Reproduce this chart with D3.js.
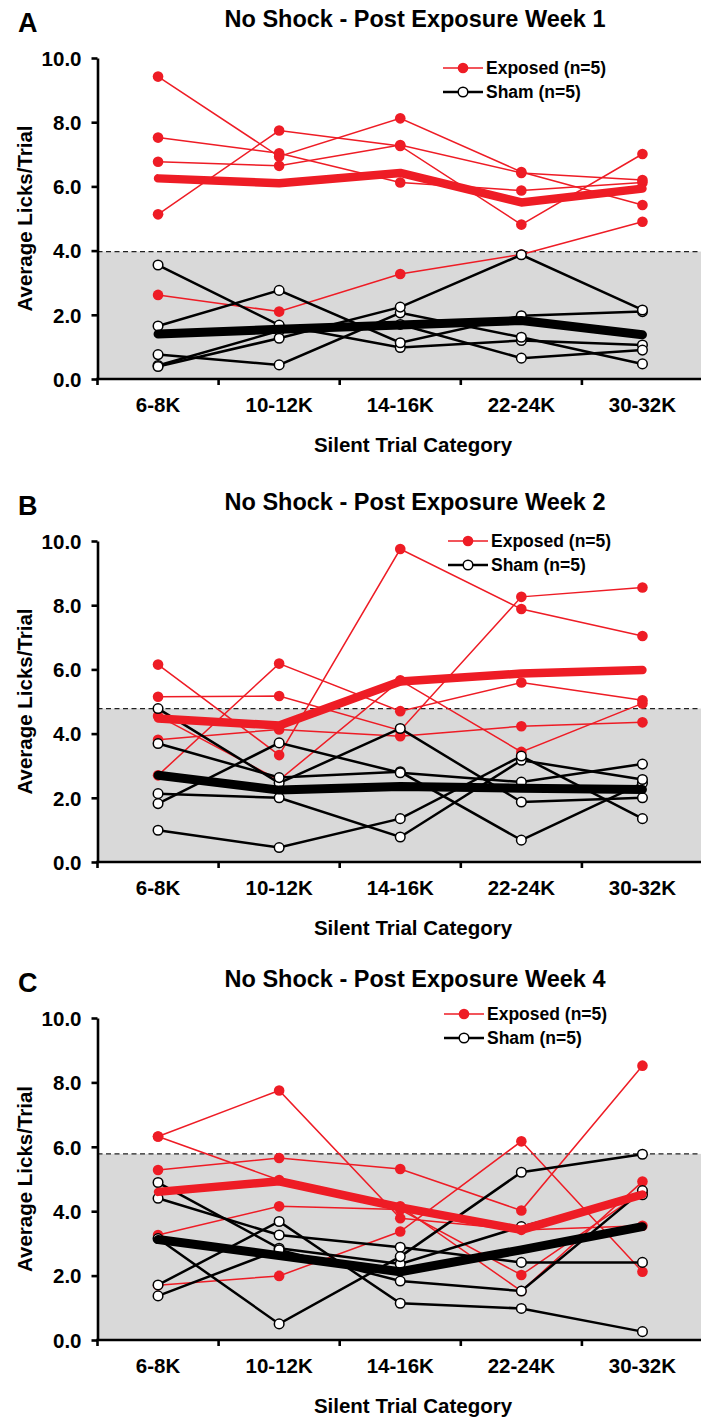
<!DOCTYPE html>
<html><head><meta charset="utf-8">
<script src="https://cdn.jsdelivr.net/npm/d3@7"></script>
<style>
html,body{margin:0;padding:0;background:#fff;}
svg{display:block;font-family:"Liberation Sans",Arial,sans-serif;font-weight:bold;}
</style>
</head><body>
<svg id="chart" width="701" height="1420"></svg>
<script>
// ---------------- data ----------------
const categories = ["6-8K", "10-12K", "14-16K", "22-24K", "30-32K"];
const yTicks = [0, 2, 4, 6, 8, 10];
const panelLetters = ["A", "B", "C"];
const panelTitles = [
  "No Shock - Post Exposure Week 1",
  "No Shock - Post Exposure Week 2",
  "No Shock - Post Exposure Week 4"
];
const thresholds = [3.97, 4.78, 5.78];
const legendLabels = ["Exposed (n=5)", "Sham (n=5)"];
const xAxisTitle = "Silent Trial Category";
const yAxisTitle = "Average Licks/Trial";

// Week 1
const exposedWeek1 = [
  [9.42, 6.93, 8.12, 6.45, 5.42],
  [7.52, 7.03, 6.12, 5.87, 6.12],
  [6.77, 6.64, 7.29, 6.42, 6.20],
  [5.13, 7.74, 7.26, 4.81, 7.01],
  [2.62, 2.10, 3.27, 3.88, 4.90]
];
const shamWeek1 = [
  [3.55, 1.68, 0.98, 1.20, 1.06],
  [1.65, 2.76, 1.13, 1.97, 2.10],
  [0.42, 1.50, 1.70, 0.65, 0.90],
  [0.76, 0.44, 2.06, 1.30, 0.47],
  [0.39, 1.27, 2.24, 3.87, 2.15]
];
const exposedMeanWeek1 = [6.25, 6.10, 6.42, 5.50, 5.93];
const shamMeanWeek1 = [1.40, 1.55, 1.68, 1.82, 1.38];

// Week 2
const exposedWeek2 = [
  [6.15, 3.33, 9.75, 7.88, 7.04],
  [5.15, 5.17, 4.10, 8.26, 8.55],
  [4.55, 2.55, 5.66, 3.43, 4.94],
  [3.81, 4.13, 3.92, 4.23, 4.35],
  [2.70, 6.18, 4.70, 5.59, 5.04]
];
const shamWeek2 = [
  [4.78, 2.46, 4.16, 1.87, 2.00],
  [3.69, 2.63, 2.81, 0.68, 2.46],
  [2.13, 2.00, 0.78, 3.17, 2.57],
  [1.82, 3.71, 2.78, 2.49, 3.05],
  [0.99, 0.45, 1.35, 3.30, 1.35]
];
const exposedMeanWeek2 = [4.47, 4.25, 5.62, 5.87, 5.98];
const shamMeanWeek2 = [2.70, 2.24, 2.35, 2.30, 2.26];

// Week 4
const exposedWeek4 = [
  [6.32, 7.75, 3.78, 3.42, 3.55],
  [6.32, 4.97, 4.15, 1.52, 4.92],
  [5.28, 5.65, 5.31, 4.02, 8.52],
  [3.26, 4.15, 4.05, 2.02, 4.60],
  [1.70, 1.99, 3.37, 6.17, 2.12]
];
const shamWeek4 = [
  [4.89, 2.85, 2.36, 3.52, 4.51],
  [4.40, 3.26, 2.88, 2.41, 2.41],
  [3.15, 0.50, 2.59, 5.21, 5.77],
  [1.71, 3.68, 1.14, 0.98, 0.26],
  [1.37, 2.80, 1.83, 1.52, 4.64]
];
const exposedMeanWeek4 = [4.60, 4.93, 4.12, 3.42, 4.52];
const shamMeanWeek4 = [3.12, 2.62, 2.12, 2.80, 3.52];

// ---------------- layout ----------------
const W = 701;
const RED = "#ee1c25";
const GRAY = "#d9d9d9";
const plotLeft = 97.5, plotRight = 703;
const panelLayout = [
  {top: 58,   bottom: 379,  legendX: 463, legendY: 68},
  {top: 541,  bottom: 862,  legendX: 468, legendY: 541},
  {top: 1018, bottom: 1340, legendX: 464, legendY: 1014}
];

const panels = [
  {exposed: exposedWeek1, sham: shamWeek1, exposedMean: exposedMeanWeek1, shamMean: shamMeanWeek1},
  {exposed: exposedWeek2, sham: shamWeek2, exposedMean: exposedMeanWeek2, shamMean: shamMeanWeek2},
  {exposed: exposedWeek4, sham: shamWeek4, exposedMean: exposedMeanWeek4, shamMean: shamMeanWeek4}
];

const svg = d3.select("#chart");

panels.forEach((p, i) => {
  const L = panelLayout[i];
  const g = svg.append("g");
  const x = d3.scaleBand().domain(categories).range([plotLeft, plotRight]);
  const xc = c => x(c) + x.bandwidth() / 2;
  const y = d3.scaleLinear().domain([0, 10]).range([L.bottom, L.top]);
  const th = thresholds[i];

  // gray region below threshold
  g.append("rect")
    .attr("x", plotLeft).attr("y", y(th))
    .attr("width", W - plotLeft).attr("height", y(0) - y(th))
    .attr("fill", GRAY);
  g.append("line")
    .attr("x1", plotLeft).attr("x2", W)
    .attr("y1", y(th)).attr("y2", y(th))
    .attr("stroke", "#222").attr("stroke-width", 1.3)
    .attr("stroke-dasharray", "5,3.5");

  const line = d3.line().x((d, j) => xc(categories[j])).y(d => y(d));

  // exposed individuals
  p.exposed.forEach(s => {
    g.append("path").attr("d", line(s)).attr("fill", "none")
      .attr("stroke", RED).attr("stroke-width", 1.5);
  });
  p.exposed.forEach(s => {
    g.selectAll(null).data(s).enter().append("circle")
      .attr("cx", (d, j) => xc(categories[j])).attr("cy", d => y(d))
      .attr("r", 5.3).attr("fill", RED);
  });
  // sham individuals
  p.sham.forEach(s => {
    g.append("path").attr("d", line(s)).attr("fill", "none")
      .attr("stroke", "#000").attr("stroke-width", 2.5);
  });
  p.sham.forEach(s => {
    g.selectAll(null).data(s).enter().append("circle")
      .attr("cx", (d, j) => xc(categories[j])).attr("cy", d => y(d))
      .attr("r", 4.8).attr("fill", "#fff").attr("stroke", "#000").attr("stroke-width", 1.5);
  });
  // means
  g.append("path").attr("d", line(p.exposedMean)).attr("fill", "none")
    .attr("stroke", RED).attr("stroke-width", 8.5).attr("stroke-linecap", "round").attr("stroke-linejoin", "round");
  g.append("path").attr("d", line(p.shamMean)).attr("fill", "none")
    .attr("stroke", "#000").attr("stroke-width", 9).attr("stroke-linecap", "round").attr("stroke-linejoin", "round");

  // y axis
  const yAxis = d3.axisLeft(y).tickValues(yTicks).tickFormat(d3.format(".1f"))
    .tickSize(6).tickSizeOuter(0).tickPadding(10);
  const ya = g.append("g").attr("transform", `translate(${plotLeft},0)`).call(yAxis);
  ya.select(".domain").attr("stroke", "#000").attr("stroke-width", 2.6);
  ya.selectAll(".tick line").attr("stroke", "#000").attr("stroke-width", 2.6);
  ya.selectAll(".tick text").attr("fill", "#000").style("font-size", "20.5px")
    .style("font-family", "'Liberation Sans',Arial,sans-serif").style("font-weight", "bold")
    .attr("dy", "0.36em");

  // x axis
  g.append("line").attr("x1", plotLeft - 1.3).attr("x2", W)
    .attr("y1", y(0)).attr("y2", y(0)).attr("stroke", "#000").attr("stroke-width", 2.6);
  const tickXs = [plotLeft].concat(categories.slice(1).map(c => x(c)));
  g.selectAll(null).data(tickXs).enter().append("line")
    .attr("x1", d => d).attr("x2", d => d)
    .attr("y1", y(0)).attr("y2", y(0) + 6)
    .attr("stroke", "#000").attr("stroke-width", 2.6);
  g.selectAll(null).data(categories).enter().append("text")
    .attr("x", d => xc(d)).attr("y", y(0) + 33)
    .attr("text-anchor", "middle").style("font-size", "20.5px").text(d => d);

  // axis titles
  g.append("text").attr("x", 413).attr("y", y(0) + 73)
    .attr("text-anchor", "middle").style("font-size", "20.5px").text(xAxisTitle);
  g.append("text")
    .attr("transform", `translate(32,${(L.top + L.bottom) / 2}) rotate(-90)`)
    .attr("text-anchor", "middle").style("font-size", "20.5px").text(yAxisTitle);

  // title and panel letter
  g.append("text").attr("x", 415).attr("y", L.top - 31)
    .attr("text-anchor", "middle").style("font-size", "23.5px").text(panelTitles[i]);
  g.append("text").attr("x", 18).attr("y", L.top - 26)
    .style("font-size", "27px").text(panelLetters[i]);

  // legend
  const lg = g.append("g");
  const rows = [
    {label: legendLabels[0], color: RED, sw: 1.5, fill: RED, stroke: "none", r: 5.3},
    {label: legendLabels[1], color: "#000", sw: 2.5, fill: "#fff", stroke: "#000", r: 4.8}
  ];
  rows.forEach((r, k) => {
    const ly = L.legendY + k * 24;
    lg.append("line").attr("x1", L.legendX - 20).attr("x2", L.legendX + 20)
      .attr("y1", ly).attr("y2", ly).attr("stroke", r.color).attr("stroke-width", r.sw);
    lg.append("circle").attr("cx", L.legendX).attr("cy", ly).attr("r", r.r)
      .attr("fill", r.fill).attr("stroke", r.stroke).attr("stroke-width", 1.5);
    lg.append("text").attr("x", L.legendX + 23).attr("y", ly + 6)
      .style("font-size", "17.5px").text(r.label);
  });
});
</script>
</body></html>
